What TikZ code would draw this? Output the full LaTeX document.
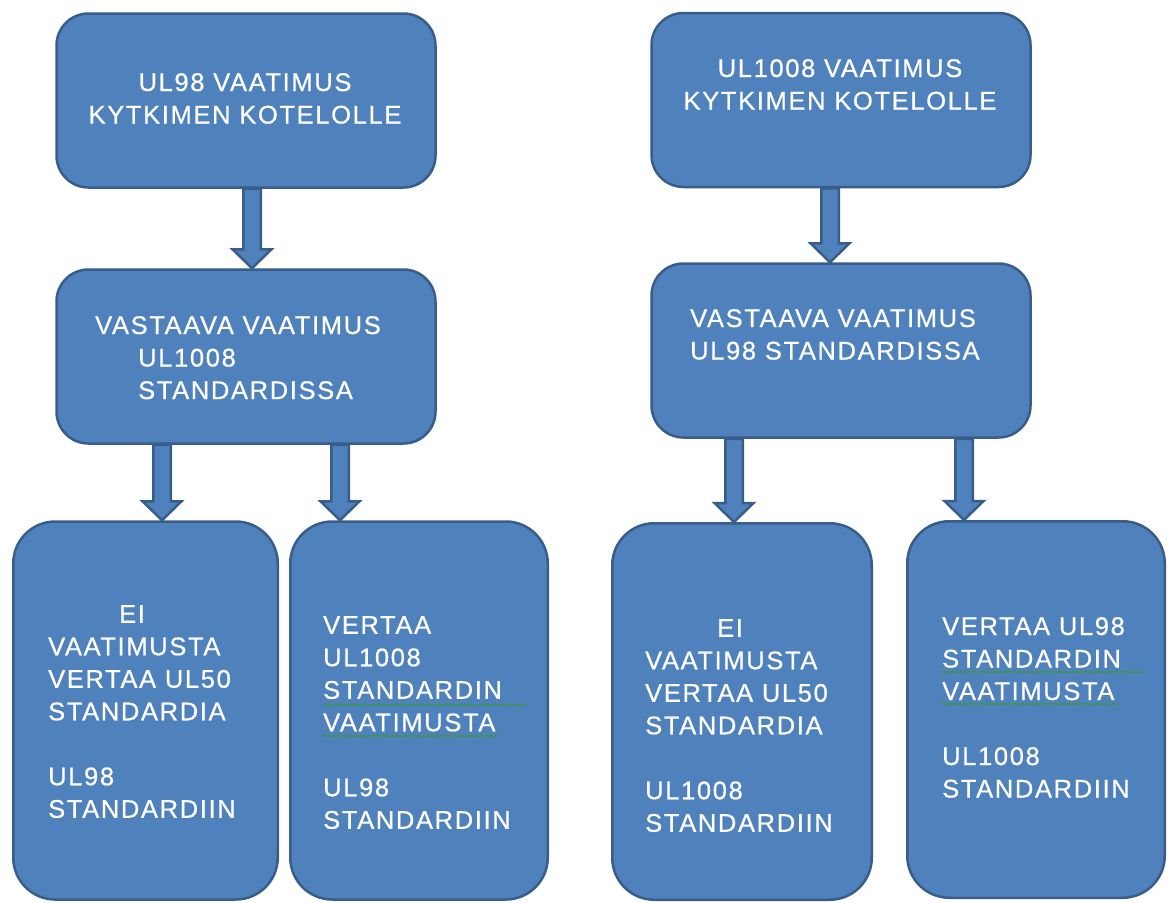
\documentclass[tikz,border=0pt]{standalone}
\usepackage{fontspec}
\newfontfamily\boxfont[LetterSpace=6.5,FakeBold=0.6]{Liberation Sans}
\usetikzlibrary{calc,decorations.pathmorphing,backgrounds}
\definecolor{boxfill}{HTML}{4F81BD}
\definecolor{boxline}{HTML}{385D8A}
\definecolor{spell}{HTML}{3A9A3A}
\tikzset{
  box/.style={draw=boxline, fill=boxfill, line width=2.5pt, inner sep=0pt},
  topbox/.style={box, rounded corners=32pt, minimum width=379pt, minimum height=174pt},
  lowbox/.style={box, rounded corners=42pt, minimum height=378pt},
  txt/.style={text=white, inner sep=0pt, font=\boxfont\fontsize{25.5}{32.5}\selectfont},
  barrow/.style={draw=boxline, fill=boxfill, line width=2.5pt, line join=miter},
  wavy/.style={draw=spell, line width=0.9pt, decorate, decoration={snake, amplitude=1.1pt, segment length=4.5pt}}
}
\newcommand{\blockarrow}[3]{%
  \path[barrow] let \p1=(#1.south), \p2=(#2.north) in
    ({#3pt-8.75pt},\y1) -- ({#3pt-8.75pt},{\y2+19pt}) -- ({#3pt-19.5pt},{\y2+19pt})
    -- (#3pt,\y2) -- ({#3pt+19.5pt},{\y2+19pt}) -- ({#3pt+8.75pt},{\y2+19pt})
    -- ({#3pt+8.75pt},\y1) -- cycle;}
\begin{document}
\begin{tikzpicture}[x=1pt,y=-1pt]
\useasboundingbox (0,0) rectangle (1169,902);
% boxes
\node[topbox] (A) at (246,100.5) {};
\node[topbox] (B) at (841,100) {};
\node[topbox] (C) at (246,356.5) {};
\node[topbox] (D) at (841,350.5) {};
\node[lowbox, minimum width=264.5pt] (E) at (145.5,710.5) {};
\node[lowbox, minimum width=257.5pt] (F) at (419,710.5) {};
\node[lowbox, minimum width=259.5pt, minimum height=376.5pt] (G) at (742,711.5) {};
\node[lowbox, minimum width=257.5pt, minimum height=376.5pt] (H) at (1036,709.5) {};
% arrows
\begin{pgfonlayer}{background}
\blockarrow{A}{C}{252}
\blockarrow{B}{D}{830}
\blockarrow{C}{E}{162}
\blockarrow{C}{F}{340}
\blockarrow{D}{G}{734}
\blockarrow{D}{H}{964}
\end{pgfonlayer}
% texts
\node[txt, align=center, anchor=north] (tA) at (245,73) {UL98 VAATIMUS\\KYTKIMEN KOTELOLLE};
\node[txt, align=center, anchor=north] (tB) at (840,59) {UL1008 VAATIMUS\\KYTKIMEN KOTELOLLE};
\node[txt, align=left, anchor=north west] (tC) at (95,316) {VASTAAVA VAATIMUS\\\hspace*{43pt}UL1008\\\hspace*{43pt}STANDARDISSA};
\node[txt, align=left, anchor=north west] (tD) at (690,309) {VASTAAVA VAATIMUS\\UL98 STANDARDISSA};
\node[txt, align=left, anchor=north west] (tE) at (48,605) {\hspace*{71pt}EI\\VAATIMUSTA\\VERTAA UL50\\STANDARDIA\\[32.5pt]UL98\\STANDARDIIN};
\node[txt, align=left, anchor=north west] (tF) at (323,616) {VERTAA\\UL1008\\STANDARDIN\\VAATIMUSTA\\[32.5pt]UL98\\STANDARDIIN};
\node[txt, align=left, anchor=north west] (tG) at (645,619) {\hspace*{72pt}EI\\VAATIMUSTA\\VERTAA UL50\\STANDARDIA\\[32.5pt]UL1008\\STANDARDIIN};
\node[txt, align=left, anchor=north west] (tH) at (942,617) {VERTAA UL98\\STANDARDIN\\VAATIMUSTA\\[32.5pt]UL1008\\STANDARDIIN};
% spell-check underlines
\draw[wavy] (323,705) -- (527,705);
\draw[wavy] (323,736) -- (498,736);
\draw[wavy] (941,672) -- (1145,672);
\draw[wavy] (941,704) -- (1118,704);
\end{tikzpicture}
\end{document}
